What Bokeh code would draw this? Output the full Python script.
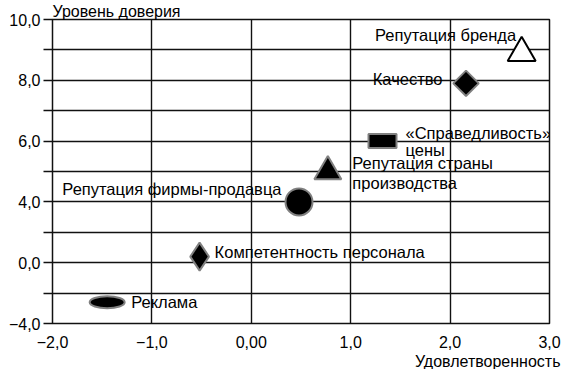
import math
from bokeh.plotting import figure
from bokeh.models import FixedTicker, Label, Range1d, Title
from bokeh.embed import file_html
from bokeh.resources import INLINE

# ---- data ----
factors = [
    "Реклама",
    "Компетентность персонала",
    "Репутация фирмы-продавца",
    "Репутация страны\nпроизводства",
    "«Справедливость»\nцены",
    "Качество",
    "Репутация бренда",
]
satisfaction = [-1.45, -0.52, 0.48, 0.77, 1.32, 2.16, 2.72]
trust = [-2.6, 0.4, 4.0, 5.0, 6.0, 7.9, 8.9]

x_ticks = [-2, -1, 0, 1, 2, 3]
x_tick_labels = ["−2,0", "−1,0", "0,00", "1,0", "2,0", "3,0"]
y_tick_values = [-4, 0, 4, 6, 8, 10]
y_tick_labels = ["−4,0", "0,0", "4,0", "6,0", "8,0", "10,0"]

x_title = "Удовлетворенность"
y_title = "Уровень доверия"

FONT = "Liberation Sans"
FS = "16px"
FS_LABEL = "16.5px"


def to_axis(v):
    # the trust axis is compressed below 4.0 (two units per grid step)
    return v if v >= 4 else 4 - (4 - v) / 2.0


ty = [to_axis(v) for v in trust]

W, H = 570, 369
p = figure(width=W, height=H, x_range=Range1d(-2, 3), y_range=Range1d(0, 10),
           output_backend="svg", toolbar_location=None,
           min_border_left=52, min_border_right=21,
           min_border_top=18, min_border_bottom=45)
p.background_fill_color = "white"
p.border_fill_color = "white"
p.outline_line_color = "#111111"
p.outline_line_width = 1.5

# axis titles as plot titles (above-left and below-right)
p.title = Title(text=y_title, align="left", standoff=0, offset=0,
                text_font=FONT, text_font_size=FS, text_font_style="normal",
                text_color="black")
p.add_layout(Title(text=x_title, align="right", standoff=0, offset=-11,
                   text_font=FONT, text_font_size=FS, text_font_style="normal",
                   text_color="black"), "below")

# grid
p.xgrid.ticker = FixedTicker(ticks=x_ticks)
p.ygrid.ticker = FixedTicker(ticks=list(range(0, 11)))
for g in (p.xgrid, p.ygrid):
    g.grid_line_color = "#111111"
    g.grid_line_width = 1.4

# x axis
xa = p.xaxis[0]
xa.ticker = FixedTicker(ticks=x_ticks)
xa.major_label_overrides = {t: s for t, s in zip(x_ticks, x_tick_labels)}
xa.axis_line_color = None
xa.major_tick_out = 0
xa.major_tick_in = 0
xa.minor_tick_line_color = None
xa.major_label_standoff = 12
xa.major_label_text_font = FONT
xa.major_label_text_font_size = FS
xa.major_label_text_color = "black"

# y axis
ya = p.yaxis[0]
ya.ticker = FixedTicker(ticks=list(range(0, 11)))
overrides = {t: "" for t in range(0, 11)}
for v, s in zip(y_tick_values, y_tick_labels):
    overrides[int(to_axis(v))] = s
ya.major_label_overrides = overrides
ya.axis_line_color = None
ya.major_tick_out = 9
ya.major_tick_in = 0
ya.major_tick_line_color = "#111111"
ya.major_tick_line_width = 1.4
ya.minor_tick_line_color = None
ya.major_label_standoff = 3
ya.major_label_text_font = FONT
ya.major_label_text_font_size = FS
ya.major_label_text_color = "black"

# ---- markers ----
edge = dict(line_color="#808080", line_width=2)
# 0 Реклама - ellipse
p.ellipse(x=[satisfaction[0]], y=[ty[0]], width=35, height=12,
          width_units="screen", height_units="screen", fill_color="black", **edge)
# 1 Компетентность - narrow diamond
p.scatter(x=[satisfaction[1]], y=[ty[1]], marker="diamond", size=28,
          fill_color="black", **edge)
# 2 Репутация фирмы - circle
p.scatter(x=[satisfaction[2]], y=[ty[2]], marker="circle", size=27,
          fill_color="black", **edge)
# 3 Репутация страны - filled triangle
p.scatter(x=[satisfaction[3]], y=[ty[3]], marker="triangle", size=27,
          fill_color="black", **edge)
# 4 Справедливость цены - rectangle
p.rect(x=[satisfaction[4]], y=[ty[4]], width=28, height=14,
       width_units="screen", height_units="screen", fill_color="black", **edge)
# 5 Качество - square diamond
p.scatter(x=[satisfaction[5]], y=[ty[5]], marker="square", size=18,
          angle=math.pi / 4, fill_color="black", **edge)
# 6 Репутация бренда - open triangle
p.scatter(x=[satisfaction[6]], y=[ty[6]], marker="triangle", size=28,
          fill_color="white", line_color="black", line_width=2)

# ---- point labels (offsets in pixels from each point) ----
label_style = [
    (24, [0], "left"),
    (15, [5], "left"),
    (-17.5, [12.5], "right"),
    (24.5, [9, -11], "left"),
    (23, [8.5, -8.5], "left"),
    (-23.5, [4.3], "right"),
    (-5.5, [17.7], "right"),
]
for i, name in enumerate(factors):
    dx, dys, align = label_style[i]
    for line, dy in zip(name.split("\n"), dys):
        p.add_layout(Label(x=satisfaction[i], y=ty[i], x_offset=dx, y_offset=dy,
                           text=line, text_align=align, text_baseline="middle",
                           text_font=FONT, text_font_size=FS_LABEL,
                           text_color="black"))

open("out.html", "w").write(file_html(p, INLINE))
